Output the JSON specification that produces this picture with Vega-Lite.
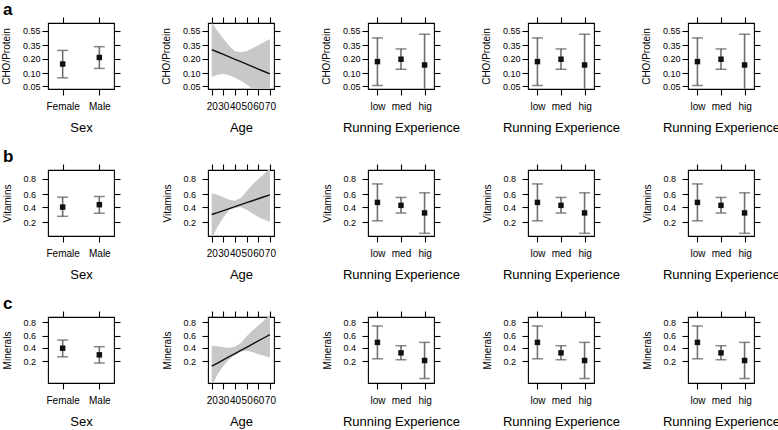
{
 "$schema": "https://vega.github.io/schema/vega-lite/v6.json",
 "background": "white",
 "padding": {"left": 0, "top": 0, "right": 0, "bottom": 0},
 "datasets": {
  "cat": [
   {"row": "a", "panel": 1, "level": "Female", "p": 0.156, "lo": 0.078, "hi": 0.285},
   {"row": "a", "panel": 1, "level": "Male", "p": 0.211, "lo": 0.126, "hi": 0.33},
   {"row": "a", "panel": 3, "level": "low", "p": 0.175, "lo": 0.052, "hi": 0.447},
   {"row": "a", "panel": 3, "level": "med", "p": 0.195, "lo": 0.121, "hi": 0.303},
   {"row": "a", "panel": 3, "level": "hig", "p": 0.149, "lo": 0.02, "hi": 0.499},
   {"row": "a", "panel": 4, "level": "low", "p": 0.175, "lo": 0.052, "hi": 0.447},
   {"row": "a", "panel": 4, "level": "med", "p": 0.195, "lo": 0.121, "hi": 0.303},
   {"row": "a", "panel": 4, "level": "hig", "p": 0.149, "lo": 0.02, "hi": 0.499},
   {"row": "a", "panel": 5, "level": "low", "p": 0.175, "lo": 0.052, "hi": 0.447},
   {"row": "a", "panel": 5, "level": "med", "p": 0.195, "lo": 0.121, "hi": 0.303},
   {"row": "a", "panel": 5, "level": "hig", "p": 0.149, "lo": 0.02, "hi": 0.499},
   {"row": "b", "panel": 1, "level": "Female", "p": 0.40, "lo": 0.27, "hi": 0.557},
   {"row": "b", "panel": 1, "level": "Male", "p": 0.437, "lo": 0.31, "hi": 0.567},
   {"row": "b", "panel": 3, "level": "low", "p": 0.473, "lo": 0.217, "hi": 0.745},
   {"row": "b", "panel": 3, "level": "med", "p": 0.427, "lo": 0.314, "hi": 0.552},
   {"row": "b", "panel": 3, "level": "hig", "p": 0.315, "lo": 0.111, "hi": 0.623},
   {"row": "b", "panel": 4, "level": "low", "p": 0.473, "lo": 0.217, "hi": 0.745},
   {"row": "b", "panel": 4, "level": "med", "p": 0.427, "lo": 0.314, "hi": 0.552},
   {"row": "b", "panel": 4, "level": "hig", "p": 0.315, "lo": 0.111, "hi": 0.623},
   {"row": "b", "panel": 5, "level": "low", "p": 0.473, "lo": 0.217, "hi": 0.745},
   {"row": "b", "panel": 5, "level": "med", "p": 0.427, "lo": 0.314, "hi": 0.552},
   {"row": "b", "panel": 5, "level": "hig", "p": 0.315, "lo": 0.111, "hi": 0.623},
   {"row": "c", "panel": 1, "level": "Female", "p": 0.388, "lo": 0.257, "hi": 0.53},
   {"row": "c", "panel": 1, "level": "Male", "p": 0.285, "lo": 0.183, "hi": 0.414},
   {"row": "c", "panel": 3, "level": "low", "p": 0.489, "lo": 0.232, "hi": 0.752},
   {"row": "c", "panel": 3, "level": "med", "p": 0.314, "lo": 0.22, "hi": 0.431},
   {"row": "c", "panel": 3, "level": "hig", "p": 0.211, "lo": 0.07, "hi": 0.489},
   {"row": "c", "panel": 4, "level": "low", "p": 0.489, "lo": 0.232, "hi": 0.752},
   {"row": "c", "panel": 4, "level": "med", "p": 0.314, "lo": 0.22, "hi": 0.431},
   {"row": "c", "panel": 4, "level": "hig", "p": 0.211, "lo": 0.07, "hi": 0.489},
   {"row": "c", "panel": 5, "level": "low", "p": 0.489, "lo": 0.232, "hi": 0.752},
   {"row": "c", "panel": 5, "level": "med", "p": 0.314, "lo": 0.22, "hi": 0.431},
   {"row": "c", "panel": 5, "level": "hig", "p": 0.211, "lo": 0.07, "hi": 0.489}
  ],
  "age": [
   {"row": "a", "age": 20, "fit": 0.294, "lower": 0.083, "upper": 0.66},
   {"row": "a", "age": 25, "fit": 0.267, "lower": 0.092, "upper": 0.546},
   {"row": "a", "age": 30, "fit": 0.241, "lower": 0.095, "upper": 0.437},
   {"row": "a", "age": 35, "fit": 0.217, "lower": 0.089, "upper": 0.341},
   {"row": "a", "age": 40, "fit": 0.194, "lower": 0.078, "upper": 0.276},
   {"row": "a", "age": 45, "fit": 0.174, "lower": 0.067, "upper": 0.265},
   {"row": "a", "age": 50, "fit": 0.155, "lower": 0.055, "upper": 0.276},
   {"row": "a", "age": 55, "fit": 0.138, "lower": 0.043, "upper": 0.311},
   {"row": "a", "age": 60, "fit": 0.122, "lower": 0.033, "upper": 0.349},
   {"row": "a", "age": 65, "fit": 0.108, "lower": 0.025, "upper": 0.392},
   {"row": "a", "age": 70, "fit": 0.0955, "lower": 0.018, "upper": 0.433},
   {"row": "b", "age": 20, "fit": 0.293, "lower": 0.08, "upper": 0.618},
   {"row": "b", "age": 25, "fit": 0.320, "lower": 0.159, "upper": 0.593},
   {"row": "b", "age": 30, "fit": 0.348, "lower": 0.255, "upper": 0.556},
   {"row": "b", "age": 35, "fit": 0.377, "lower": 0.352, "upper": 0.516},
   {"row": "b", "age": 40, "fit": 0.407, "lower": 0.386, "upper": 0.50},
   {"row": "b", "age": 45, "fit": 0.437, "lower": 0.40, "upper": 0.547},
   {"row": "b", "age": 50, "fit": 0.469, "lower": 0.361, "upper": 0.647},
   {"row": "b", "age": 55, "fit": 0.5, "lower": 0.306, "upper": 0.737},
   {"row": "b", "age": 60, "fit": 0.531, "lower": 0.263, "upper": 0.80},
   {"row": "b", "age": 65, "fit": 0.563, "lower": 0.232, "upper": 0.846},
   {"row": "b", "age": 70, "fit": 0.593, "lower": 0.206, "upper": 0.89},
   {"row": "c", "age": 20, "fit": 0.152, "lower": 0.04, "upper": 0.431},
   {"row": "c", "age": 25, "fit": 0.183, "lower": 0.092, "upper": 0.42},
   {"row": "c", "age": 30, "fit": 0.218, "lower": 0.154, "upper": 0.403},
   {"row": "c", "age": 35, "fit": 0.259, "lower": 0.227, "upper": 0.397},
   {"row": "c", "age": 40, "fit": 0.303, "lower": 0.281, "upper": 0.413},
   {"row": "c", "age": 45, "fit": 0.352, "lower": 0.337, "upper": 0.479},
   {"row": "c", "age": 50, "fit": 0.404, "lower": 0.347, "upper": 0.596},
   {"row": "c", "age": 55, "fit": 0.459, "lower": 0.326, "upper": 0.688},
   {"row": "c", "age": 60, "fit": 0.515, "lower": 0.295, "upper": 0.758},
   {"row": "c", "age": 65, "fit": 0.570, "lower": 0.271, "upper": 0.818},
   {"row": "c", "age": 70, "fit": 0.623, "lower": 0.249, "upper": 0.87}
  ]
 },
 "columns": 5,
 "bounds": "flush",
 "spacing": {"row": 81, "column": 94},
 "concat": [
  {
   "width": 66, "height": 66,
   "title": {"text": "a", "dx": -45, "dy": 20, "offset": 4, "baseline": "alphabetic"},
   "data": {"name": "cat"},
   "transform": [{"filter": "datum.row === 'a' && datum.panel === 1"}, {"calculate": "log(datum.p/(1-datum.p))", "as": "lp"}, {"calculate": "log(datum.lo/(1-datum.lo))", "as": "llo"}, {"calculate": "log(datum.hi/(1-datum.hi))", "as": "lhi"}],
   "layer": [
    {"mark": {"type": "rule", "color": "#707070", "strokeWidth": 1.6, "clip": true},
     "encoding": {"x": {"field": "level", "type": "nominal", "sort": ["Female", "Male"], "scale": {"type": "point", "padding": 0.4}, "axis": {"title": "Sex"}},
      "y": {"field": "llo", "type": "quantitative", "scale": {"domain": [-3.1, 0.63], "nice": false, "zero": false}, "axis": {"title": "CHO/Protein", "values": [-2.944439, -2.197225, -1.386294, -0.619039, 0.200671], "labelExpr": "format(1/(1+exp(-datum.value)),'.2f')", "labelPadding": 2}},
      "y2": {"field": "lhi"}}},
    {"mark": {"type": "tick", "color": "#555555", "thickness": 1.5, "size": 11, "clip": true},
     "encoding": {"x": {"field": "level", "type": "nominal", "sort": ["Female", "Male"], "scale": {"type": "point", "padding": 0.4}, "axis": null}, "y": {"field": "llo", "type": "quantitative", "scale": {"domain": [-3.1, 0.63], "nice": false, "zero": false}, "axis": null}}},
    {"mark": {"type": "tick", "color": "#555555", "thickness": 1.5, "size": 11, "clip": true},
     "encoding": {"x": {"field": "level", "type": "nominal", "sort": ["Female", "Male"], "scale": {"type": "point", "padding": 0.4}, "axis": null}, "y": {"field": "lhi", "type": "quantitative", "scale": {"domain": [-3.1, 0.63], "nice": false, "zero": false}, "axis": null}}},
    {"mark": {"type": "point", "shape": "square", "filled": true, "size": 30, "color": "#111111", "opacity": 1},
     "encoding": {"x": {"field": "level", "type": "nominal", "sort": ["Female", "Male"], "scale": {"type": "point", "padding": 0.4}, "axis": {"orient": "top", "labels": false, "title": null}}, "y": {"field": "lp", "type": "quantitative", "scale": {"domain": [-3.1, 0.63], "nice": false, "zero": false}, "axis": {"orient": "right", "labels": false, "title": null, "values": [-2.944439, -2.197225, -1.386294, -0.619039, 0.200671]}}}}
   ],
   "resolve": {"scale": {"x": "independent", "y": "independent"}}
  },
  {
   "width": 66, "height": 66,
   "data": {"name": "age"},
   "transform": [{"filter": "datum.row === 'a'"}, {"calculate": "log(datum.fit/(1-datum.fit))", "as": "lf"}, {"calculate": "log(datum.lower/(1-datum.lower))", "as": "llow"}, {"calculate": "log(datum.upper/(1-datum.upper))", "as": "lup"}],
   "layer": [
    {"mark": {"type": "area", "color": "#c8c8c8", "opacity": 1, "clip": true},
     "encoding": {"x": {"field": "age", "type": "quantitative", "scale": {"domain": [16.8, 73.5], "nice": false, "zero": false}, "axis": {"title": "Age", "values": [20, 30, 40, 50, 60, 70], "format": "d", "labelOverlap": false, "labelFlush": false}},
      "y": {"field": "llow", "type": "quantitative", "scale": {"domain": [-3.1, 0.63], "nice": false, "zero": false}, "axis": {"title": "CHO/Protein", "values": [-2.944439, -2.197225, -1.386294, -0.619039, 0.200671], "labelExpr": "format(1/(1+exp(-datum.value)),'.2f')", "labelPadding": 2}},
      "y2": {"field": "lup"}}},
    {"mark": {"type": "line", "color": "#111111", "strokeWidth": 1.4, "clip": true},
     "encoding": {"x": {"field": "age", "type": "quantitative", "scale": {"domain": [16.8, 73.5], "nice": false, "zero": false}, "axis": {"orient": "top", "labels": false, "title": null, "values": [20, 30, 40, 50, 60, 70]}},
      "y": {"field": "lf", "type": "quantitative", "scale": {"domain": [-3.1, 0.63], "nice": false, "zero": false}, "axis": {"orient": "right", "labels": false, "title": null, "values": [-2.944439, -2.197225, -1.386294, -0.619039, 0.200671]}}}}
   ],
   "resolve": {"scale": {"x": "independent", "y": "independent"}}
  },
  {
   "width": 66, "height": 66,
   "data": {"name": "cat"},
   "transform": [{"filter": "datum.row === 'a' && datum.panel === 3"}, {"calculate": "log(datum.p/(1-datum.p))", "as": "lp"}, {"calculate": "log(datum.lo/(1-datum.lo))", "as": "llo"}, {"calculate": "log(datum.hi/(1-datum.hi))", "as": "lhi"}],
   "layer": [
    {"mark": {"type": "rule", "color": "#707070", "strokeWidth": 1.6, "clip": true},
     "encoding": {"x": {"field": "level", "type": "nominal", "sort": ["low", "med", "hig"], "scale": {"type": "point", "padding": 0.4}, "axis": {"title": "Running Experience"}},
      "y": {"field": "llo", "type": "quantitative", "scale": {"domain": [-3.1, 0.63], "nice": false, "zero": false}, "axis": {"title": "CHO/Protein", "values": [-2.944439, -2.197225, -1.386294, -0.619039, 0.200671], "labelExpr": "format(1/(1+exp(-datum.value)),'.2f')", "labelPadding": 2}},
      "y2": {"field": "lhi"}}},
    {"mark": {"type": "tick", "color": "#555555", "thickness": 1.5, "size": 11, "clip": true},
     "encoding": {"x": {"field": "level", "type": "nominal", "sort": ["low", "med", "hig"], "scale": {"type": "point", "padding": 0.4}, "axis": null}, "y": {"field": "llo", "type": "quantitative", "scale": {"domain": [-3.1, 0.63], "nice": false, "zero": false}, "axis": null}}},
    {"mark": {"type": "tick", "color": "#555555", "thickness": 1.5, "size": 11, "clip": true},
     "encoding": {"x": {"field": "level", "type": "nominal", "sort": ["low", "med", "hig"], "scale": {"type": "point", "padding": 0.4}, "axis": null}, "y": {"field": "lhi", "type": "quantitative", "scale": {"domain": [-3.1, 0.63], "nice": false, "zero": false}, "axis": null}}},
    {"mark": {"type": "point", "shape": "square", "filled": true, "size": 30, "color": "#111111", "opacity": 1},
     "encoding": {"x": {"field": "level", "type": "nominal", "sort": ["low", "med", "hig"], "scale": {"type": "point", "padding": 0.4}, "axis": {"orient": "top", "labels": false, "title": null}}, "y": {"field": "lp", "type": "quantitative", "scale": {"domain": [-3.1, 0.63], "nice": false, "zero": false}, "axis": {"orient": "right", "labels": false, "title": null, "values": [-2.944439, -2.197225, -1.386294, -0.619039, 0.200671]}}}}
   ],
   "resolve": {"scale": {"x": "independent", "y": "independent"}}
  },
  {
   "width": 66, "height": 66,
   "data": {"name": "cat"},
   "transform": [{"filter": "datum.row === 'a' && datum.panel === 4"}, {"calculate": "log(datum.p/(1-datum.p))", "as": "lp"}, {"calculate": "log(datum.lo/(1-datum.lo))", "as": "llo"}, {"calculate": "log(datum.hi/(1-datum.hi))", "as": "lhi"}],
   "layer": [
    {"mark": {"type": "rule", "color": "#707070", "strokeWidth": 1.6, "clip": true},
     "encoding": {"x": {"field": "level", "type": "nominal", "sort": ["low", "med", "hig"], "scale": {"type": "point", "padding": 0.4}, "axis": {"title": "Running Experience"}},
      "y": {"field": "llo", "type": "quantitative", "scale": {"domain": [-3.1, 0.63], "nice": false, "zero": false}, "axis": {"title": "CHO/Protein", "values": [-2.944439, -2.197225, -1.386294, -0.619039, 0.200671], "labelExpr": "format(1/(1+exp(-datum.value)),'.2f')", "labelPadding": 2}},
      "y2": {"field": "lhi"}}},
    {"mark": {"type": "tick", "color": "#555555", "thickness": 1.5, "size": 11, "clip": true},
     "encoding": {"x": {"field": "level", "type": "nominal", "sort": ["low", "med", "hig"], "scale": {"type": "point", "padding": 0.4}, "axis": null}, "y": {"field": "llo", "type": "quantitative", "scale": {"domain": [-3.1, 0.63], "nice": false, "zero": false}, "axis": null}}},
    {"mark": {"type": "tick", "color": "#555555", "thickness": 1.5, "size": 11, "clip": true},
     "encoding": {"x": {"field": "level", "type": "nominal", "sort": ["low", "med", "hig"], "scale": {"type": "point", "padding": 0.4}, "axis": null}, "y": {"field": "lhi", "type": "quantitative", "scale": {"domain": [-3.1, 0.63], "nice": false, "zero": false}, "axis": null}}},
    {"mark": {"type": "point", "shape": "square", "filled": true, "size": 30, "color": "#111111", "opacity": 1},
     "encoding": {"x": {"field": "level", "type": "nominal", "sort": ["low", "med", "hig"], "scale": {"type": "point", "padding": 0.4}, "axis": {"orient": "top", "labels": false, "title": null}}, "y": {"field": "lp", "type": "quantitative", "scale": {"domain": [-3.1, 0.63], "nice": false, "zero": false}, "axis": {"orient": "right", "labels": false, "title": null, "values": [-2.944439, -2.197225, -1.386294, -0.619039, 0.200671]}}}}
   ],
   "resolve": {"scale": {"x": "independent", "y": "independent"}}
  },
  {
   "width": 66, "height": 66,
   "data": {"name": "cat"},
   "transform": [{"filter": "datum.row === 'a' && datum.panel === 5"}, {"calculate": "log(datum.p/(1-datum.p))", "as": "lp"}, {"calculate": "log(datum.lo/(1-datum.lo))", "as": "llo"}, {"calculate": "log(datum.hi/(1-datum.hi))", "as": "lhi"}],
   "layer": [
    {"mark": {"type": "rule", "color": "#707070", "strokeWidth": 1.6, "clip": true},
     "encoding": {"x": {"field": "level", "type": "nominal", "sort": ["low", "med", "hig"], "scale": {"type": "point", "padding": 0.4}, "axis": {"title": "Running Experience"}},
      "y": {"field": "llo", "type": "quantitative", "scale": {"domain": [-3.1, 0.63], "nice": false, "zero": false}, "axis": {"title": "CHO/Protein", "values": [-2.944439, -2.197225, -1.386294, -0.619039, 0.200671], "labelExpr": "format(1/(1+exp(-datum.value)),'.2f')", "labelPadding": 2}},
      "y2": {"field": "lhi"}}},
    {"mark": {"type": "tick", "color": "#555555", "thickness": 1.5, "size": 11, "clip": true},
     "encoding": {"x": {"field": "level", "type": "nominal", "sort": ["low", "med", "hig"], "scale": {"type": "point", "padding": 0.4}, "axis": null}, "y": {"field": "llo", "type": "quantitative", "scale": {"domain": [-3.1, 0.63], "nice": false, "zero": false}, "axis": null}}},
    {"mark": {"type": "tick", "color": "#555555", "thickness": 1.5, "size": 11, "clip": true},
     "encoding": {"x": {"field": "level", "type": "nominal", "sort": ["low", "med", "hig"], "scale": {"type": "point", "padding": 0.4}, "axis": null}, "y": {"field": "lhi", "type": "quantitative", "scale": {"domain": [-3.1, 0.63], "nice": false, "zero": false}, "axis": null}}},
    {"mark": {"type": "point", "shape": "square", "filled": true, "size": 30, "color": "#111111", "opacity": 1},
     "encoding": {"x": {"field": "level", "type": "nominal", "sort": ["low", "med", "hig"], "scale": {"type": "point", "padding": 0.4}, "axis": {"orient": "top", "labels": false, "title": null}}, "y": {"field": "lp", "type": "quantitative", "scale": {"domain": [-3.1, 0.63], "nice": false, "zero": false}, "axis": {"orient": "right", "labels": false, "title": null, "values": [-2.944439, -2.197225, -1.386294, -0.619039, 0.200671]}}}}
   ],
   "resolve": {"scale": {"x": "independent", "y": "independent"}}
  },
  {
   "width": 66, "height": 66,
   "title": {"text": "b", "dx": -45, "dy": 20, "offset": 4, "baseline": "alphabetic"},
   "data": {"name": "cat"},
   "transform": [{"filter": "datum.row === 'b' && datum.panel === 1"}, {"calculate": "log(datum.p/(1-datum.p))", "as": "lp"}, {"calculate": "log(datum.lo/(1-datum.lo))", "as": "llo"}, {"calculate": "log(datum.hi/(1-datum.hi))", "as": "lhi"}],
   "layer": [
    {"mark": {"type": "rule", "color": "#707070", "strokeWidth": 1.6, "clip": true},
     "encoding": {"x": {"field": "level", "type": "nominal", "sort": ["Female", "Male"], "scale": {"type": "point", "padding": 0.4}, "axis": {"title": "Sex"}},
      "y": {"field": "llo", "type": "quantitative", "scale": {"domain": [-2.25, 1.96], "nice": false, "zero": false}, "axis": {"title": "Vitamins", "values": [-1.386294, -0.405465, 0.405465, 1.386294], "labelExpr": "format(1/(1+exp(-datum.value)),'.1f')", "labelAlign": "left", "labelPadding": 19}},
      "y2": {"field": "lhi"}}},
    {"mark": {"type": "tick", "color": "#555555", "thickness": 1.5, "size": 11, "clip": true},
     "encoding": {"x": {"field": "level", "type": "nominal", "sort": ["Female", "Male"], "scale": {"type": "point", "padding": 0.4}, "axis": null}, "y": {"field": "llo", "type": "quantitative", "scale": {"domain": [-2.25, 1.96], "nice": false, "zero": false}, "axis": null}}},
    {"mark": {"type": "tick", "color": "#555555", "thickness": 1.5, "size": 11, "clip": true},
     "encoding": {"x": {"field": "level", "type": "nominal", "sort": ["Female", "Male"], "scale": {"type": "point", "padding": 0.4}, "axis": null}, "y": {"field": "lhi", "type": "quantitative", "scale": {"domain": [-2.25, 1.96], "nice": false, "zero": false}, "axis": null}}},
    {"mark": {"type": "point", "shape": "square", "filled": true, "size": 30, "color": "#111111", "opacity": 1},
     "encoding": {"x": {"field": "level", "type": "nominal", "sort": ["Female", "Male"], "scale": {"type": "point", "padding": 0.4}, "axis": {"orient": "top", "labels": false, "title": null}}, "y": {"field": "lp", "type": "quantitative", "scale": {"domain": [-2.25, 1.96], "nice": false, "zero": false}, "axis": {"orient": "right", "labels": false, "title": null, "values": [-1.386294, -0.405465, 0.405465, 1.386294]}}}}
   ],
   "resolve": {"scale": {"x": "independent", "y": "independent"}}
  },
  {
   "width": 66, "height": 66,
   "data": {"name": "age"},
   "transform": [{"filter": "datum.row === 'b'"}, {"calculate": "log(datum.fit/(1-datum.fit))", "as": "lf"}, {"calculate": "log(datum.lower/(1-datum.lower))", "as": "llow"}, {"calculate": "log(datum.upper/(1-datum.upper))", "as": "lup"}],
   "layer": [
    {"mark": {"type": "area", "color": "#c8c8c8", "opacity": 1, "clip": true},
     "encoding": {"x": {"field": "age", "type": "quantitative", "scale": {"domain": [16.8, 73.5], "nice": false, "zero": false}, "axis": {"title": "Age", "values": [20, 30, 40, 50, 60, 70], "format": "d", "labelOverlap": false, "labelFlush": false}},
      "y": {"field": "llow", "type": "quantitative", "scale": {"domain": [-2.25, 1.96], "nice": false, "zero": false}, "axis": {"title": "Vitamins", "values": [-1.386294, -0.405465, 0.405465, 1.386294], "labelExpr": "format(1/(1+exp(-datum.value)),'.1f')", "labelAlign": "left", "labelPadding": 19}},
      "y2": {"field": "lup"}}},
    {"mark": {"type": "line", "color": "#111111", "strokeWidth": 1.4, "clip": true},
     "encoding": {"x": {"field": "age", "type": "quantitative", "scale": {"domain": [16.8, 73.5], "nice": false, "zero": false}, "axis": {"orient": "top", "labels": false, "title": null, "values": [20, 30, 40, 50, 60, 70]}},
      "y": {"field": "lf", "type": "quantitative", "scale": {"domain": [-2.25, 1.96], "nice": false, "zero": false}, "axis": {"orient": "right", "labels": false, "title": null, "values": [-1.386294, -0.405465, 0.405465, 1.386294]}}}}
   ],
   "resolve": {"scale": {"x": "independent", "y": "independent"}}
  },
  {
   "width": 66, "height": 66,
   "data": {"name": "cat"},
   "transform": [{"filter": "datum.row === 'b' && datum.panel === 3"}, {"calculate": "log(datum.p/(1-datum.p))", "as": "lp"}, {"calculate": "log(datum.lo/(1-datum.lo))", "as": "llo"}, {"calculate": "log(datum.hi/(1-datum.hi))", "as": "lhi"}],
   "layer": [
    {"mark": {"type": "rule", "color": "#707070", "strokeWidth": 1.6, "clip": true},
     "encoding": {"x": {"field": "level", "type": "nominal", "sort": ["low", "med", "hig"], "scale": {"type": "point", "padding": 0.4}, "axis": {"title": "Running Experience"}},
      "y": {"field": "llo", "type": "quantitative", "scale": {"domain": [-2.25, 1.96], "nice": false, "zero": false}, "axis": {"title": "Vitamins", "values": [-1.386294, -0.405465, 0.405465, 1.386294], "labelExpr": "format(1/(1+exp(-datum.value)),'.1f')", "labelAlign": "left", "labelPadding": 19}},
      "y2": {"field": "lhi"}}},
    {"mark": {"type": "tick", "color": "#555555", "thickness": 1.5, "size": 11, "clip": true},
     "encoding": {"x": {"field": "level", "type": "nominal", "sort": ["low", "med", "hig"], "scale": {"type": "point", "padding": 0.4}, "axis": null}, "y": {"field": "llo", "type": "quantitative", "scale": {"domain": [-2.25, 1.96], "nice": false, "zero": false}, "axis": null}}},
    {"mark": {"type": "tick", "color": "#555555", "thickness": 1.5, "size": 11, "clip": true},
     "encoding": {"x": {"field": "level", "type": "nominal", "sort": ["low", "med", "hig"], "scale": {"type": "point", "padding": 0.4}, "axis": null}, "y": {"field": "lhi", "type": "quantitative", "scale": {"domain": [-2.25, 1.96], "nice": false, "zero": false}, "axis": null}}},
    {"mark": {"type": "point", "shape": "square", "filled": true, "size": 30, "color": "#111111", "opacity": 1},
     "encoding": {"x": {"field": "level", "type": "nominal", "sort": ["low", "med", "hig"], "scale": {"type": "point", "padding": 0.4}, "axis": {"orient": "top", "labels": false, "title": null}}, "y": {"field": "lp", "type": "quantitative", "scale": {"domain": [-2.25, 1.96], "nice": false, "zero": false}, "axis": {"orient": "right", "labels": false, "title": null, "values": [-1.386294, -0.405465, 0.405465, 1.386294]}}}}
   ],
   "resolve": {"scale": {"x": "independent", "y": "independent"}}
  },
  {
   "width": 66, "height": 66,
   "data": {"name": "cat"},
   "transform": [{"filter": "datum.row === 'b' && datum.panel === 4"}, {"calculate": "log(datum.p/(1-datum.p))", "as": "lp"}, {"calculate": "log(datum.lo/(1-datum.lo))", "as": "llo"}, {"calculate": "log(datum.hi/(1-datum.hi))", "as": "lhi"}],
   "layer": [
    {"mark": {"type": "rule", "color": "#707070", "strokeWidth": 1.6, "clip": true},
     "encoding": {"x": {"field": "level", "type": "nominal", "sort": ["low", "med", "hig"], "scale": {"type": "point", "padding": 0.4}, "axis": {"title": "Running Experience"}},
      "y": {"field": "llo", "type": "quantitative", "scale": {"domain": [-2.25, 1.96], "nice": false, "zero": false}, "axis": {"title": "Vitamins", "values": [-1.386294, -0.405465, 0.405465, 1.386294], "labelExpr": "format(1/(1+exp(-datum.value)),'.1f')", "labelAlign": "left", "labelPadding": 19}},
      "y2": {"field": "lhi"}}},
    {"mark": {"type": "tick", "color": "#555555", "thickness": 1.5, "size": 11, "clip": true},
     "encoding": {"x": {"field": "level", "type": "nominal", "sort": ["low", "med", "hig"], "scale": {"type": "point", "padding": 0.4}, "axis": null}, "y": {"field": "llo", "type": "quantitative", "scale": {"domain": [-2.25, 1.96], "nice": false, "zero": false}, "axis": null}}},
    {"mark": {"type": "tick", "color": "#555555", "thickness": 1.5, "size": 11, "clip": true},
     "encoding": {"x": {"field": "level", "type": "nominal", "sort": ["low", "med", "hig"], "scale": {"type": "point", "padding": 0.4}, "axis": null}, "y": {"field": "lhi", "type": "quantitative", "scale": {"domain": [-2.25, 1.96], "nice": false, "zero": false}, "axis": null}}},
    {"mark": {"type": "point", "shape": "square", "filled": true, "size": 30, "color": "#111111", "opacity": 1},
     "encoding": {"x": {"field": "level", "type": "nominal", "sort": ["low", "med", "hig"], "scale": {"type": "point", "padding": 0.4}, "axis": {"orient": "top", "labels": false, "title": null}}, "y": {"field": "lp", "type": "quantitative", "scale": {"domain": [-2.25, 1.96], "nice": false, "zero": false}, "axis": {"orient": "right", "labels": false, "title": null, "values": [-1.386294, -0.405465, 0.405465, 1.386294]}}}}
   ],
   "resolve": {"scale": {"x": "independent", "y": "independent"}}
  },
  {
   "width": 66, "height": 66,
   "data": {"name": "cat"},
   "transform": [{"filter": "datum.row === 'b' && datum.panel === 5"}, {"calculate": "log(datum.p/(1-datum.p))", "as": "lp"}, {"calculate": "log(datum.lo/(1-datum.lo))", "as": "llo"}, {"calculate": "log(datum.hi/(1-datum.hi))", "as": "lhi"}],
   "layer": [
    {"mark": {"type": "rule", "color": "#707070", "strokeWidth": 1.6, "clip": true},
     "encoding": {"x": {"field": "level", "type": "nominal", "sort": ["low", "med", "hig"], "scale": {"type": "point", "padding": 0.4}, "axis": {"title": "Running Experience"}},
      "y": {"field": "llo", "type": "quantitative", "scale": {"domain": [-2.25, 1.96], "nice": false, "zero": false}, "axis": {"title": "Vitamins", "values": [-1.386294, -0.405465, 0.405465, 1.386294], "labelExpr": "format(1/(1+exp(-datum.value)),'.1f')", "labelAlign": "left", "labelPadding": 19}},
      "y2": {"field": "lhi"}}},
    {"mark": {"type": "tick", "color": "#555555", "thickness": 1.5, "size": 11, "clip": true},
     "encoding": {"x": {"field": "level", "type": "nominal", "sort": ["low", "med", "hig"], "scale": {"type": "point", "padding": 0.4}, "axis": null}, "y": {"field": "llo", "type": "quantitative", "scale": {"domain": [-2.25, 1.96], "nice": false, "zero": false}, "axis": null}}},
    {"mark": {"type": "tick", "color": "#555555", "thickness": 1.5, "size": 11, "clip": true},
     "encoding": {"x": {"field": "level", "type": "nominal", "sort": ["low", "med", "hig"], "scale": {"type": "point", "padding": 0.4}, "axis": null}, "y": {"field": "lhi", "type": "quantitative", "scale": {"domain": [-2.25, 1.96], "nice": false, "zero": false}, "axis": null}}},
    {"mark": {"type": "point", "shape": "square", "filled": true, "size": 30, "color": "#111111", "opacity": 1},
     "encoding": {"x": {"field": "level", "type": "nominal", "sort": ["low", "med", "hig"], "scale": {"type": "point", "padding": 0.4}, "axis": {"orient": "top", "labels": false, "title": null}}, "y": {"field": "lp", "type": "quantitative", "scale": {"domain": [-2.25, 1.96], "nice": false, "zero": false}, "axis": {"orient": "right", "labels": false, "title": null, "values": [-1.386294, -0.405465, 0.405465, 1.386294]}}}}
   ],
   "resolve": {"scale": {"x": "independent", "y": "independent"}}
  },
  {
   "width": 66, "height": 66,
   "title": {"text": "c", "dx": -45, "dy": 20, "offset": 4, "baseline": "alphabetic"},
   "data": {"name": "cat"},
   "transform": [{"filter": "datum.row === 'c' && datum.panel === 1"}, {"calculate": "log(datum.p/(1-datum.p))", "as": "lp"}, {"calculate": "log(datum.lo/(1-datum.lo))", "as": "llo"}, {"calculate": "log(datum.hi/(1-datum.hi))", "as": "lhi"}],
   "layer": [
    {"mark": {"type": "rule", "color": "#707070", "strokeWidth": 1.6, "clip": true},
     "encoding": {"x": {"field": "level", "type": "nominal", "sort": ["Female", "Male"], "scale": {"type": "point", "padding": 0.4}, "axis": {"title": "Sex"}},
      "y": {"field": "llo", "type": "quantitative", "scale": {"domain": [-2.9, 1.74], "nice": false, "zero": false}, "axis": {"title": "Minerals", "values": [-1.386294, -0.405465, 0.405465, 1.386294], "labelExpr": "format(1/(1+exp(-datum.value)),'.1f')", "labelAlign": "left", "labelPadding": 19}},
      "y2": {"field": "lhi"}}},
    {"mark": {"type": "tick", "color": "#555555", "thickness": 1.5, "size": 11, "clip": true},
     "encoding": {"x": {"field": "level", "type": "nominal", "sort": ["Female", "Male"], "scale": {"type": "point", "padding": 0.4}, "axis": null}, "y": {"field": "llo", "type": "quantitative", "scale": {"domain": [-2.9, 1.74], "nice": false, "zero": false}, "axis": null}}},
    {"mark": {"type": "tick", "color": "#555555", "thickness": 1.5, "size": 11, "clip": true},
     "encoding": {"x": {"field": "level", "type": "nominal", "sort": ["Female", "Male"], "scale": {"type": "point", "padding": 0.4}, "axis": null}, "y": {"field": "lhi", "type": "quantitative", "scale": {"domain": [-2.9, 1.74], "nice": false, "zero": false}, "axis": null}}},
    {"mark": {"type": "point", "shape": "square", "filled": true, "size": 30, "color": "#111111", "opacity": 1},
     "encoding": {"x": {"field": "level", "type": "nominal", "sort": ["Female", "Male"], "scale": {"type": "point", "padding": 0.4}, "axis": {"orient": "top", "labels": false, "title": null}}, "y": {"field": "lp", "type": "quantitative", "scale": {"domain": [-2.9, 1.74], "nice": false, "zero": false}, "axis": {"orient": "right", "labels": false, "title": null, "values": [-1.386294, -0.405465, 0.405465, 1.386294]}}}}
   ],
   "resolve": {"scale": {"x": "independent", "y": "independent"}}
  },
  {
   "width": 66, "height": 66,
   "data": {"name": "age"},
   "transform": [{"filter": "datum.row === 'c'"}, {"calculate": "log(datum.fit/(1-datum.fit))", "as": "lf"}, {"calculate": "log(datum.lower/(1-datum.lower))", "as": "llow"}, {"calculate": "log(datum.upper/(1-datum.upper))", "as": "lup"}],
   "layer": [
    {"mark": {"type": "area", "color": "#c8c8c8", "opacity": 1, "clip": true},
     "encoding": {"x": {"field": "age", "type": "quantitative", "scale": {"domain": [16.8, 73.5], "nice": false, "zero": false}, "axis": {"title": "Age", "values": [20, 30, 40, 50, 60, 70], "format": "d", "labelOverlap": false, "labelFlush": false}},
      "y": {"field": "llow", "type": "quantitative", "scale": {"domain": [-2.9, 1.74], "nice": false, "zero": false}, "axis": {"title": "Minerals", "values": [-1.386294, -0.405465, 0.405465, 1.386294], "labelExpr": "format(1/(1+exp(-datum.value)),'.1f')", "labelAlign": "left", "labelPadding": 19}},
      "y2": {"field": "lup"}}},
    {"mark": {"type": "line", "color": "#111111", "strokeWidth": 1.4, "clip": true},
     "encoding": {"x": {"field": "age", "type": "quantitative", "scale": {"domain": [16.8, 73.5], "nice": false, "zero": false}, "axis": {"orient": "top", "labels": false, "title": null, "values": [20, 30, 40, 50, 60, 70]}},
      "y": {"field": "lf", "type": "quantitative", "scale": {"domain": [-2.9, 1.74], "nice": false, "zero": false}, "axis": {"orient": "right", "labels": false, "title": null, "values": [-1.386294, -0.405465, 0.405465, 1.386294]}}}}
   ],
   "resolve": {"scale": {"x": "independent", "y": "independent"}}
  },
  {
   "width": 66, "height": 66,
   "data": {"name": "cat"},
   "transform": [{"filter": "datum.row === 'c' && datum.panel === 3"}, {"calculate": "log(datum.p/(1-datum.p))", "as": "lp"}, {"calculate": "log(datum.lo/(1-datum.lo))", "as": "llo"}, {"calculate": "log(datum.hi/(1-datum.hi))", "as": "lhi"}],
   "layer": [
    {"mark": {"type": "rule", "color": "#707070", "strokeWidth": 1.6, "clip": true},
     "encoding": {"x": {"field": "level", "type": "nominal", "sort": ["low", "med", "hig"], "scale": {"type": "point", "padding": 0.4}, "axis": {"title": "Running Experience"}},
      "y": {"field": "llo", "type": "quantitative", "scale": {"domain": [-2.9, 1.74], "nice": false, "zero": false}, "axis": {"title": "Minerals", "values": [-1.386294, -0.405465, 0.405465, 1.386294], "labelExpr": "format(1/(1+exp(-datum.value)),'.1f')", "labelAlign": "left", "labelPadding": 19}},
      "y2": {"field": "lhi"}}},
    {"mark": {"type": "tick", "color": "#555555", "thickness": 1.5, "size": 11, "clip": true},
     "encoding": {"x": {"field": "level", "type": "nominal", "sort": ["low", "med", "hig"], "scale": {"type": "point", "padding": 0.4}, "axis": null}, "y": {"field": "llo", "type": "quantitative", "scale": {"domain": [-2.9, 1.74], "nice": false, "zero": false}, "axis": null}}},
    {"mark": {"type": "tick", "color": "#555555", "thickness": 1.5, "size": 11, "clip": true},
     "encoding": {"x": {"field": "level", "type": "nominal", "sort": ["low", "med", "hig"], "scale": {"type": "point", "padding": 0.4}, "axis": null}, "y": {"field": "lhi", "type": "quantitative", "scale": {"domain": [-2.9, 1.74], "nice": false, "zero": false}, "axis": null}}},
    {"mark": {"type": "point", "shape": "square", "filled": true, "size": 30, "color": "#111111", "opacity": 1},
     "encoding": {"x": {"field": "level", "type": "nominal", "sort": ["low", "med", "hig"], "scale": {"type": "point", "padding": 0.4}, "axis": {"orient": "top", "labels": false, "title": null}}, "y": {"field": "lp", "type": "quantitative", "scale": {"domain": [-2.9, 1.74], "nice": false, "zero": false}, "axis": {"orient": "right", "labels": false, "title": null, "values": [-1.386294, -0.405465, 0.405465, 1.386294]}}}}
   ],
   "resolve": {"scale": {"x": "independent", "y": "independent"}}
  },
  {
   "width": 66, "height": 66,
   "data": {"name": "cat"},
   "transform": [{"filter": "datum.row === 'c' && datum.panel === 4"}, {"calculate": "log(datum.p/(1-datum.p))", "as": "lp"}, {"calculate": "log(datum.lo/(1-datum.lo))", "as": "llo"}, {"calculate": "log(datum.hi/(1-datum.hi))", "as": "lhi"}],
   "layer": [
    {"mark": {"type": "rule", "color": "#707070", "strokeWidth": 1.6, "clip": true},
     "encoding": {"x": {"field": "level", "type": "nominal", "sort": ["low", "med", "hig"], "scale": {"type": "point", "padding": 0.4}, "axis": {"title": "Running Experience"}},
      "y": {"field": "llo", "type": "quantitative", "scale": {"domain": [-2.9, 1.74], "nice": false, "zero": false}, "axis": {"title": "Minerals", "values": [-1.386294, -0.405465, 0.405465, 1.386294], "labelExpr": "format(1/(1+exp(-datum.value)),'.1f')", "labelAlign": "left", "labelPadding": 19}},
      "y2": {"field": "lhi"}}},
    {"mark": {"type": "tick", "color": "#555555", "thickness": 1.5, "size": 11, "clip": true},
     "encoding": {"x": {"field": "level", "type": "nominal", "sort": ["low", "med", "hig"], "scale": {"type": "point", "padding": 0.4}, "axis": null}, "y": {"field": "llo", "type": "quantitative", "scale": {"domain": [-2.9, 1.74], "nice": false, "zero": false}, "axis": null}}},
    {"mark": {"type": "tick", "color": "#555555", "thickness": 1.5, "size": 11, "clip": true},
     "encoding": {"x": {"field": "level", "type": "nominal", "sort": ["low", "med", "hig"], "scale": {"type": "point", "padding": 0.4}, "axis": null}, "y": {"field": "lhi", "type": "quantitative", "scale": {"domain": [-2.9, 1.74], "nice": false, "zero": false}, "axis": null}}},
    {"mark": {"type": "point", "shape": "square", "filled": true, "size": 30, "color": "#111111", "opacity": 1},
     "encoding": {"x": {"field": "level", "type": "nominal", "sort": ["low", "med", "hig"], "scale": {"type": "point", "padding": 0.4}, "axis": {"orient": "top", "labels": false, "title": null}}, "y": {"field": "lp", "type": "quantitative", "scale": {"domain": [-2.9, 1.74], "nice": false, "zero": false}, "axis": {"orient": "right", "labels": false, "title": null, "values": [-1.386294, -0.405465, 0.405465, 1.386294]}}}}
   ],
   "resolve": {"scale": {"x": "independent", "y": "independent"}}
  },
  {
   "width": 66, "height": 66,
   "data": {"name": "cat"},
   "transform": [{"filter": "datum.row === 'c' && datum.panel === 5"}, {"calculate": "log(datum.p/(1-datum.p))", "as": "lp"}, {"calculate": "log(datum.lo/(1-datum.lo))", "as": "llo"}, {"calculate": "log(datum.hi/(1-datum.hi))", "as": "lhi"}],
   "layer": [
    {"mark": {"type": "rule", "color": "#707070", "strokeWidth": 1.6, "clip": true},
     "encoding": {"x": {"field": "level", "type": "nominal", "sort": ["low", "med", "hig"], "scale": {"type": "point", "padding": 0.4}, "axis": {"title": "Running Experience"}},
      "y": {"field": "llo", "type": "quantitative", "scale": {"domain": [-2.9, 1.74], "nice": false, "zero": false}, "axis": {"title": "Minerals", "values": [-1.386294, -0.405465, 0.405465, 1.386294], "labelExpr": "format(1/(1+exp(-datum.value)),'.1f')", "labelAlign": "left", "labelPadding": 19}},
      "y2": {"field": "lhi"}}},
    {"mark": {"type": "tick", "color": "#555555", "thickness": 1.5, "size": 11, "clip": true},
     "encoding": {"x": {"field": "level", "type": "nominal", "sort": ["low", "med", "hig"], "scale": {"type": "point", "padding": 0.4}, "axis": null}, "y": {"field": "llo", "type": "quantitative", "scale": {"domain": [-2.9, 1.74], "nice": false, "zero": false}, "axis": null}}},
    {"mark": {"type": "tick", "color": "#555555", "thickness": 1.5, "size": 11, "clip": true},
     "encoding": {"x": {"field": "level", "type": "nominal", "sort": ["low", "med", "hig"], "scale": {"type": "point", "padding": 0.4}, "axis": null}, "y": {"field": "lhi", "type": "quantitative", "scale": {"domain": [-2.9, 1.74], "nice": false, "zero": false}, "axis": null}}},
    {"mark": {"type": "point", "shape": "square", "filled": true, "size": 30, "color": "#111111", "opacity": 1},
     "encoding": {"x": {"field": "level", "type": "nominal", "sort": ["low", "med", "hig"], "scale": {"type": "point", "padding": 0.4}, "axis": {"orient": "top", "labels": false, "title": null}}, "y": {"field": "lp", "type": "quantitative", "scale": {"domain": [-2.9, 1.74], "nice": false, "zero": false}, "axis": {"orient": "right", "labels": false, "title": null, "values": [-1.386294, -0.405465, 0.405465, 1.386294]}}}}
   ],
   "resolve": {"scale": {"x": "independent", "y": "independent"}}
  }
 ],
 "config": {
  "font": "Liberation Sans",
  "view": {"stroke": "#000000", "strokeWidth": 1.1},
  "axis": {"domain": false, "grid": false, "ticks": true, "tickColor": "#000000", "tickSize": 6, "tickWidth": 1.1, "labelColor": "#000000", "titleColor": "#000000", "titleFontWeight": "normal", "labelFont": "Liberation Sans", "titleFont": "Liberation Sans"},
  "axisX": {"labelFontSize": 10, "labelPadding": 6, "labelAngle": 0, "titleFontSize": 13, "titlePadding": 10},
  "axisY": {"labelFontSize": 9, "titleFontSize": 10, "titlePadding": 11},
  "title": {"fontSize": 17, "fontWeight": "bold", "anchor": "start", "frame": "group", "color": "#000000", "font": "Liberation Sans"}
 }
}
